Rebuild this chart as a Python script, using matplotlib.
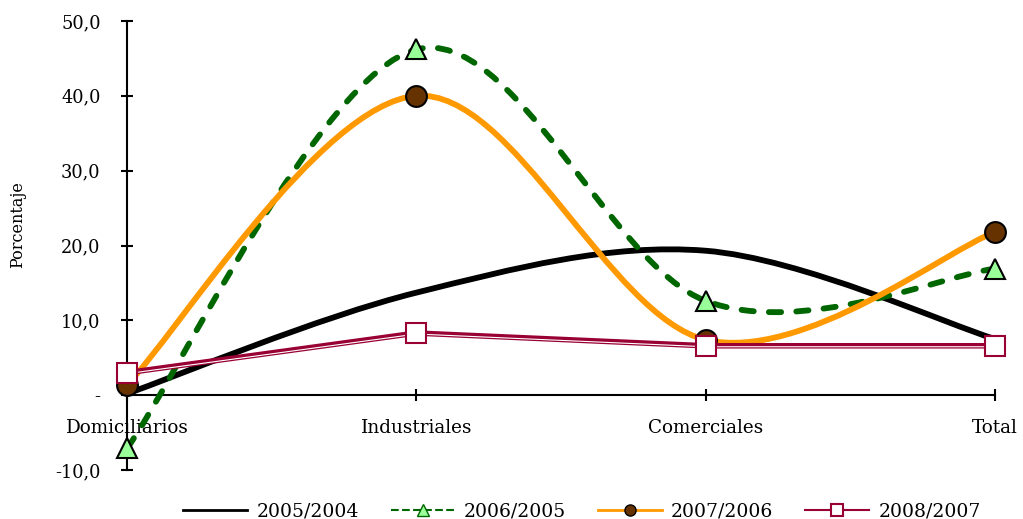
import numpy as np
import matplotlib
matplotlib.use('Agg')
import matplotlib.pyplot as plt
from matplotlib.path import Path
from matplotlib.patches import PathPatch
from matplotlib.lines import Line2D
from matplotlib.ticker import FixedLocator, FuncFormatter
import matplotlib.transforms as mtrans

plt.rcParams['font.family'] = ['DejaVu Serif']

categorias = ['Domiciliarios', 'Industriales', 'Comerciales', 'Total']
v_2005 = [0.2, 13.7, 19.3, 7.5]
v_2006 = [-7.1, 46.2, 12.6, 16.9]
v_2007 = [1.4, 40.0, 7.4, 21.8]
v_2008 = [3.0, 8.3, 6.6, 6.6]
series_labels = ['2005/2004', '2006/2005', '2007/2006', '2008/2007']


def smooth_path(xs, ys):
    # excel-like smoothed line: catmull-rom turned into cubic beziers
    pts = np.column_stack([xs, ys]).astype(float)
    ext = np.vstack([pts[0], pts, pts[-1]])
    verts = [tuple(pts[0])]
    codes = [Path.MOVETO]
    for i in range(len(pts) - 1):
        p0, p1, p2, p3 = ext[i], ext[i + 1], ext[i + 2], ext[i + 3]
        c1 = p1 + (p2 - p0) / 6.0
        c2 = p2 - (p3 - p1) / 6.0
        verts += [tuple(c1), tuple(c2), tuple(p2)]
        codes += [Path.CURVE4] * 3
    return Path(verts, codes)


fig = plt.figure(figsize=(10.23, 5.19), dpi=100)
ax = fig.add_axes([127 / 1023, 1 - 470 / 519, (995 - 127) / 1023, (470 - 21) / 519])

x = np.arange(len(categorias))

# 2005/2004
ax.add_patch(PathPatch(smooth_path(x, v_2005), fill=False, edgecolor='black',
                       lw=4.2, capstyle='round', joinstyle='round', zorder=3))

# 2006/2005
ax.add_patch(PathPatch(smooth_path(x, v_2006), fill=False, edgecolor='#006600',
                       lw=4.2, linestyle=(0, (2.1, 2.6)), capstyle='round',
                       zorder=4))
ax.plot(x, v_2006, ls='none', marker='^', ms=14, mfc='#99FF99', mec='black',
        mew=1.5, clip_on=False, zorder=4.5)

# 2007/2006
ax.add_patch(PathPatch(smooth_path(x, v_2007), fill=False, edgecolor='#FF9900',
                       lw=4.2, capstyle='round', zorder=5))
ax.plot(x, v_2007, ls='none', marker='o', ms=15, mfc='#663300', mec='black',
        mew=1.5, clip_on=False, zorder=5.5)

# 2008/2007 (double line)
ax.plot(x, v_2008, color='#990033', lw=4.0, solid_joinstyle='round',
        clip_on=False, zorder=6)
off = mtrans.offset_copy(ax.transData, fig=fig, x=0, y=-0.7, units='points')
ax.plot(x, v_2008, color='white', lw=0.8, transform=off, clip_on=False, zorder=6.1)
ax.plot(x, v_2008, ls='none', marker='s', ms=14, mfc='white', mec='#990033',
        mew=1.5, clip_on=False, zorder=6.5)

ax.set_xlim(0, 3)
ax.set_ylim(-10, 50)

for s in ['top', 'right']:
    ax.spines[s].set_visible(False)
ax.spines['bottom'].set_position(('data', 0))
ax.spines['bottom'].set_linewidth(1.5)
ax.spines['left'].set_linewidth(1.5)

ax.set_xticks(x)
ax.set_xticklabels(categorias, fontsize=13.2)
ax.yaxis.set_major_locator(FixedLocator([-10, 0, 10, 20, 30, 40, 50]))
ax.yaxis.set_major_formatter(FuncFormatter(
    lambda v, p: '-' if v == 0 else f'{v:.1f}'.replace('.', ',')))
ax.tick_params(axis='y', direction='inout', length=8, width=1.5, pad=15,
               labelsize=12.8)
ax.tick_params(axis='x', direction='inout', length=8, width=1.5, pad=13.5)

fig.text(18 / 1023, 1 - 225 / 519, 'Porcentaje', rotation=90, ha='center',
         va='center', fontsize=11.5)

handles = [
    Line2D([], [], color='black', lw=2),
    Line2D([], [], color='#006600', lw=1.5, ls='--', marker='^', ms=8,
           mfc='#99FF99', mec='#006600', mew=1),
    Line2D([], [], color='#FF9900', lw=2, marker='o', ms=8, mfc='#663300',
           mec='black', mew=1),
    Line2D([], [], color='#990033', lw=1.5, marker='s', ms=8, mfc='white',
           mec='#990033', mew=1.5),
]
fig.legend(handles, series_labels, loc='center', ncol=4, frameon=False,
           bbox_to_anchor=(582 / 1023, 1 - 512 / 519), fontsize=13.5,
           handlelength=3.4, handletextpad=0.5, columnspacing=1.7)

fig.savefig('out.png', dpi=100)
